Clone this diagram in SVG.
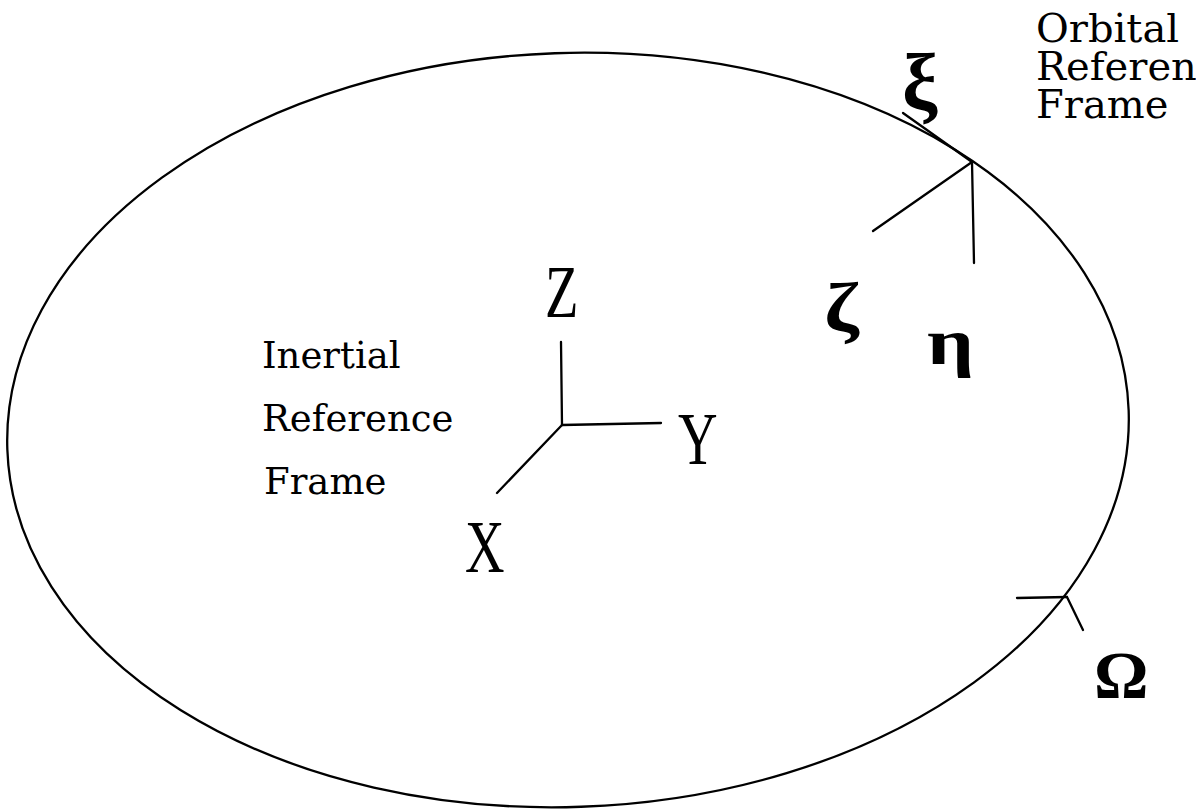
<svg xmlns="http://www.w3.org/2000/svg" width="1196" height="810" viewBox="0 0 1196 810">
<style>
.ln{stroke:#000;stroke-width:2.3;fill:none;stroke-linecap:round}
.txt{font-family:"DejaVu Serif","Liberation Serif",serif;font-size:37px;fill:#000}
.otxt{font-family:"DejaVu Serif","Liberation Serif",serif;font-size:40px;fill:#000}
.ax{font-family:"Liberation Serif","Times New Roman",serif;font-size:74px;fill:#000}
.gk{font-family:"Liberation Serif","Times New Roman",serif;font-weight:bold;fill:#000}
</style>
<rect width="1196" height="810" fill="#fff"/>
<g id="orbit">
<ellipse class="ln" cx="568" cy="430" rx="561" ry="377" transform="rotate(-2 568 430)"/>
</g>
<g id="connectors">
<line class="ln" x1="561" y1="342" x2="562" y2="425"/>
<line class="ln" x1="562" y1="425" x2="661" y2="423"/>
<line class="ln" x1="562" y1="425" x2="497" y2="493"/>
<line class="ln" x1="972" y1="162" x2="903" y2="113"/>
<line class="ln" x1="972" y1="162" x2="873" y2="231"/>
<line class="ln" x1="972" y1="162" x2="974" y2="263"/>
<line class="ln" x1="1067" y1="597" x2="1017" y2="598"/>
<line class="ln" x1="1067" y1="597" x2="1083" y2="630"/>
</g>
<g id="inertial-label">
<text class="txt" x="262" y="368">Inertial</text>
<text class="txt" x="262" y="431">Reference</text>
<text class="txt" x="264" y="494">Frame</text>
</g>
<g id="orbital-label">
<text class="otxt" x="1036" y="42">Orbital</text>
<text class="otxt" x="1036" y="80">Reference</text>
<text class="otxt" x="1036" y="118">Frame</text>
</g>
<g id="axis-Z"><text class="ax" transform="translate(545 317) scale(0.74 1)">Z</text></g>
<g id="axis-Y"><text class="ax" transform="translate(678 464) scale(0.74 1)">Y</text></g>
<g id="axis-X"><text class="ax" transform="translate(465 572) scale(0.74 1)">X</text></g>
<g id="xi"><text class="gk" x="902" y="110" font-size="80">ξ</text></g>
<g id="zeta"><text class="gk" transform="translate(824 331) scale(1.2 1)" font-size="70">ζ</text></g>
<g id="eta"><text class="gk" transform="translate(927 364) scale(1.25 1)" font-size="66">η</text></g>
<g id="omega"><text class="gk" x="1094" y="698" font-size="68">Ω</text></g>
</svg>
